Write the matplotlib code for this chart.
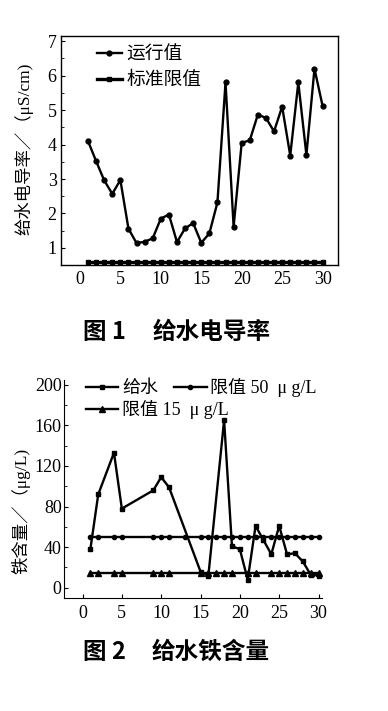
import matplotlib
matplotlib.use("Agg")
import matplotlib.pyplot as plt
from matplotlib.ticker import MultipleLocator

plt.rcParams['font.family'] = ['Liberation Serif', 'Noto Sans CJK SC', 'DejaVu Sans']

# === Fig.1 data: feed water conductivity ===
cond_x = list(range(1, 31))
cond_run = [4.10, 3.52, 2.96, 2.57, 2.97, 1.56, 1.14, 1.18, 1.28, 1.85,
            1.97, 1.17, 1.57, 1.72, 1.15, 1.42, 2.32, 5.80, 1.62, 4.05,
            4.12, 4.87, 4.77, 4.38, 5.10, 3.68, 5.80, 3.70, 6.20, 5.12]
cond_limit = [0.6] * 30

# === Fig.2 data: feed water iron content ===
fe_x = [1, 2, 4, 5, 9, 10, 11, 15, 16, 18, 19, 20, 21, 22, 23, 24, 25, 26, 27, 28, 29, 30]
fe_water = [38, 92, 133, 78, 96, 109, 99, 16, 12, 165, 41, 38, 8, 61, 47, 33,
            61, 33, 34, 26, 13, 12]
lim50_x = [1, 2, 4, 5, 9, 10, 11, 13, 15, 16, 17, 18, 19, 20, 21, 22, 23, 24, 25, 26, 27, 28, 29, 30]
lim50 = [50] * len(lim50_x)
lim15_x = [1, 2, 4, 5, 9, 10, 11, 15, 16, 17, 18, 19, 21, 22, 24, 25, 26, 27, 28, 29, 30]
lim15 = [15] * len(lim15_x)

fig = plt.figure(figsize=(3.88, 7.11), dpi=100)
cjk = ['Noto Sans CJK SC']

# -------------------------------------------------------------------------
# Fig.1
# -------------------------------------------------------------------------
ax1 = fig.add_axes([0.157, 0.627, 0.714, 0.322])
ax1.plot(cond_x, cond_run, color='black', lw=1.7, marker='o', ms=3.5, label='运行值')
ax1.plot(cond_x, cond_limit, color='black', lw=2.4, marker='s', ms=2.5, label='标准限值')
ax1.set_xlim(-2.35, 31.9)
ax1.set_ylim(0.5, 7.14)
ax1.xaxis.set_major_locator(MultipleLocator(5))
ax1.yaxis.set_major_locator(MultipleLocator(1))
ax1.yaxis.set_minor_locator(MultipleLocator(0.5))
ax1.tick_params(axis='both', which='both', direction='in', labelsize=13)
ax1.tick_params(axis='x', which='both', length=0, pad=4)
ax1.tick_params(axis='y', which='major', length=3, pad=3)
ax1.tick_params(axis='y', which='minor', length=2)
ax1.set_ylabel('给水电导率／（μS/cm)', fontsize=12.5)
ax1.yaxis.set_label_coords(-0.10, 0.51)
ax1.legend(loc='upper left', bbox_to_anchor=(0.07, 1.03), frameon=False,
           fontsize=13.5, handlelength=1.3, numpoints=1, labelspacing=0.45,
           handletextpad=0.25)
for sp in ax1.spines.values():
    sp.set_linewidth(1.0)

fig.text(83 / 388, 1 - 331.7 / 711, '图 1', ha='left', va='center',
         fontsize=17, fontweight='bold', family=cjk)
fig.text(153 / 388, 1 - 331.7 / 711, '给水电导率', ha='left', va='center',
         fontsize=17, fontweight='bold', family=cjk)

# -------------------------------------------------------------------------
# Fig.2
# -------------------------------------------------------------------------
ax2 = fig.add_axes([0.166, 0.159, 0.663, 0.307])
h1, = ax2.plot(fe_x, fe_water, color='black', lw=1.7, marker='s', ms=3)
h2, = ax2.plot(lim50_x, lim50, color='black', lw=1.7, marker='o', ms=3)
h3, = ax2.plot(lim15_x, lim15, color='black', lw=1.7, marker='^', ms=4)
ax2.set_xlim(-2.3, 30.4)
ax2.set_ylim(-10, 205)
ax2.xaxis.set_major_locator(MultipleLocator(5))
ax2.yaxis.set_major_locator(MultipleLocator(40))
ax2.yaxis.set_minor_locator(MultipleLocator(20))
ax2.tick_params(axis='both', which='both', direction='in', labelsize=13)
ax2.tick_params(axis='x', which='major', length=3, pad=5)
ax2.tick_params(axis='y', which='major', length=3, pad=2)
ax2.tick_params(axis='y', which='minor', length=2)
ax2.spines['top'].set_visible(False)
ax2.spines['right'].set_visible(False)
ax2.set_ylabel('铁含量／（μg/L)', fontsize=12.5)
ax2.yaxis.set_label_coords(-0.13, 0.40)

leg_a = ax2.legend([h1, h2], ['给水', '限值 50  μ g/L'],
                   loc='upper left', bbox_to_anchor=(0.02, 1.08), frameon=False,
                   fontsize=13, ncol=2, handlelength=1.8, numpoints=1,
                   handletextpad=0.2, columnspacing=0.9)
ax2.add_artist(leg_a)
ax2.legend([h3], ['限值 15  μ g/L'],
           loc='upper left', bbox_to_anchor=(0.02, 0.98), frameon=False,
           fontsize=13, handlelength=1.8, numpoints=1, handletextpad=0.2)

fig.text(83 / 388, 1 - 651.7 / 711, '图 2', ha='left', va='center',
         fontsize=17, fontweight='bold', family=cjk)
fig.text(152 / 388, 1 - 651.7 / 711, '给水铁含量', ha='left', va='center',
         fontsize=17, fontweight='bold', family=cjk)

fig.savefig('out.png', dpi=100)
